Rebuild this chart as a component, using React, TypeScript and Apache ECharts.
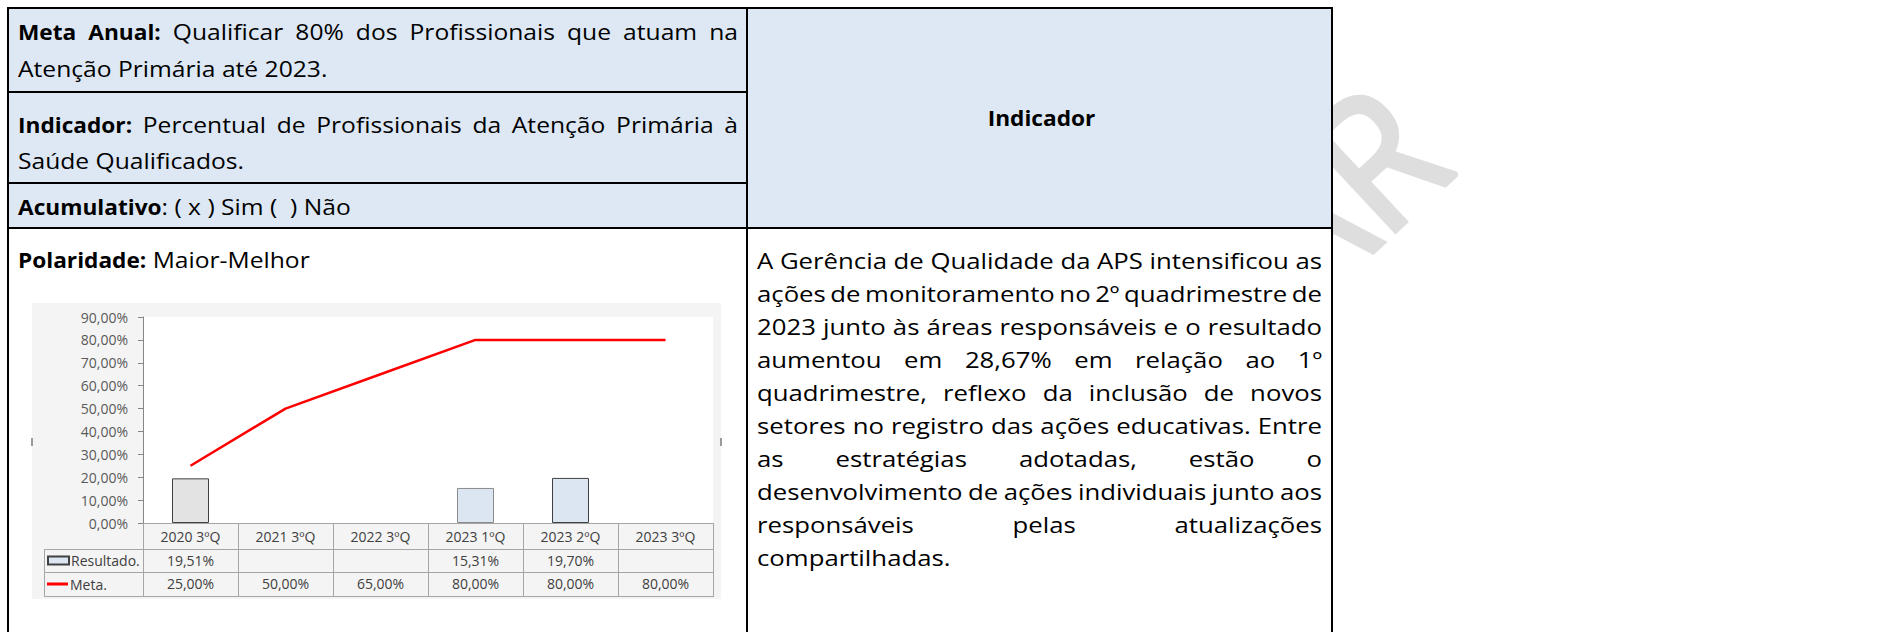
import React, { useEffect, useRef } from "react";
import * as echarts from "echarts";

// ---------- data ----------
const categories = ["2020 3ºQ", "2021 3ºQ", "2022 3ºQ", "2023 1ºQ", "2023 2ºQ", "2023 3ºQ"];
const resultado: (number | null)[] = [19.51, null, null, 15.31, 19.7, null];
const meta: number[] = [25, 50, 65, 80, 80, 80];
const yMin = 0;
const yMax = 90;
const yStep = 10;

const seriesNames = ["Resultado.", "Meta."];

const metaAnualLabel = "Meta Anual:";
const metaAnualText = ["Qualificar 80% dos Profissionais que atuam na", "Atenção Primária até 2023."];
const indicadorLabel = "Indicador:";
const indicadorText = ["Percentual de Profissionais da Atenção Primária à", "Saúde Qualificados."];
const acumulativoLabel = "Acumulativo";
const acumulativoText = ": ( x ) Sim (  ) Não";
const polaridadeLabel = "Polaridade:";
const polaridadeText = "Maior-Melhor";
const headerTitle = "Indicador";
const analysisLines = [
  "A Gerência de Qualidade da APS intensificou as",
  "ações de monitoramento no 2º quadrimestre de",
  "2023 junto às áreas responsáveis e o resultado",
  "aumentou em 28,67% em relação ao 1º",
  "quadrimestre, reflexo da inclusão de novos",
  "setores no registro das ações educativas. Entre",
  "as estratégias adotadas, estão o",
  "desenvolvimento de ações individuais junto aos",
  "responsáveis pelas atualizações",
  "compartilhadas.",
];
// only the tail of the watermark is visible beside the table
const watermarkText = "AR";

// ---------- styles / layout ----------
const FONT = '"Open Sans", sans-serif';
const TXT_SIZE = 22;
const SX_LEFT = 1.12;
const SX_BOLD = 1.03;
const SX_RIGHT = 1.17;
const CHART_FONT_SIZE = 14;

const W = 1885;
const H = 632;
const TB = { left: 8, mid: 747, right: 1332, top: 8, r1: 92, r2: 183, r3: 228 };
const CH = { left: 32, right: 721, top: 303, bottom: 599 };
const GRID = { left: 143, top: 317, width: 570, height: 206 };
const DT = { left: 44, row1: 549, row2: 572, row3: 596 };

const BAR_STYLES = [
  { color: "#e3e3e3", borderColor: "#404040" },
  null,
  null,
  { color: "#dce6f2", borderColor: "#8a8a8a" },
  { color: "#dce6f2", borderColor: "#404040" },
  null,
];

const fmtPct = (v: number | null | undefined) =>
  v == null ? "" : v.toFixed(2).replace(".", ",") + "%";

let measureCtx: CanvasRenderingContext2D | null = null;
function measure(text: string, bold = false) {
  if (!measureCtx) measureCtx = document.createElement("canvas").getContext("2d");
  measureCtx!.font = `${bold ? "bold" : "normal"} ${TXT_SIZE}px ${FONT}`;
  return measureCtx!.measureText(text).width;
}

function textEl(text: string, x: number, y: number, sx: number, bold = false, extra: any = {}) {
  return {
    type: "text",
    x,
    y,
    scaleX: sx,
    z: 30,
    silent: true,
    style: {
      text,
      fontFamily: FONT,
      fontSize: TXT_SIZE,
      fontWeight: bold ? "bold" : "normal",
      fill: "#000",
      align: "left",
      textAlign: "left",
      verticalAlign: "middle",
      textVerticalAlign: "middle",
      ...extra,
    },
  };
}

type Tok = { t: string; b: boolean };
const toks = (s: string, b: boolean): Tok[] => s.split(" ").filter((w) => w.length).map((t) => ({ t, b }));

function justify(els: any[], tokens: Tok[], x0: number, x1: number, y: number, sxReg: number) {
  const widths = tokens.map((tk) => measure(tk.t, tk.b) * (tk.b ? SX_BOLD : sxReg));
  const total = widths.reduce((a, b) => a + b, 0);
  const gap = tokens.length > 1 ? (x1 - x0 - total) / (tokens.length - 1) : 0;
  let x = x0;
  tokens.forEach((tk, k) => {
    els.push(textEl(tk.t, x, y, tk.b ? SX_BOLD : sxReg, tk.b));
    x += widths[k] + gap;
  });
}

function labelled(els: any[], label: string, text: string, x: number, y: number, withSpace: boolean) {
  els.push(textEl(label, x, y, SX_BOLD, true));
  const lw = measure(label, true) * SX_BOLD + (withSpace ? measure(" ") * SX_LEFT : 0);
  els.push(textEl(text, x + lw, y, SX_LEFT, false));
}

function buildGraphic() {
  const els: any[] = [];
  // watermark (behind everything)
  els.push({
    type: "text",
    x: 1410,
    y: 120,
    rotation: 0.75,
    scaleX: 0.9,
    z: -30,
    silent: true,
    style: {
      text: watermarkText,
      fontFamily: FONT,
      fontSize: 185,
      fontWeight: "normal",
      fill: "#dedede",
      stroke: "#dedede",
      lineWidth: 5,
      lineJoin: "round",
      lineCap: "round",
      align: "right",
      textAlign: "right",
      verticalAlign: "middle",
      textVerticalAlign: "middle",
    },
  });
  // table fills
  const blue = "#dde8f4";
  els.push({ type: "rect", z: -20, silent: true, shape: { x: TB.left, y: TB.top, width: TB.right - TB.left, height: TB.r3 - TB.top }, style: { fill: blue } });
  els.push({ type: "rect", z: -20, silent: true, shape: { x: TB.left, y: TB.r3, width: TB.right - TB.left, height: H - TB.r3 }, style: { fill: "#fff" } });
  // chart background
  els.push({ type: "rect", z: -15, silent: true, shape: { x: CH.left, y: CH.top, width: CH.right - CH.left, height: CH.bottom - CH.top }, style: { fill: "#f4f4f4" } });
  // chart frame handles
  els.push({ type: "rect", z: -14, silent: true, shape: { x: CH.left - 1, y: 438, width: 2, height: 8 }, style: { fill: "#9a9a9a" } });
  els.push({ type: "rect", z: -14, silent: true, shape: { x: CH.right - 1, y: 438, width: 2, height: 8 }, style: { fill: "#9a9a9a" } });

  // data table grid lines
  const lineStyle = { stroke: "#a6a6a6", lineWidth: 1 };
  const cw = GRID.width / categories.length;
  const gBottom = GRID.top + GRID.height;
  for (let k = 0; k <= categories.length; k++) {
    const x = Math.round(GRID.left + k * cw) + 0.5;
    els.push({ type: "line", z: 5, silent: true, shape: { x1: x, y1: gBottom, x2: x, y2: DT.row3 }, style: lineStyle });
  }
  els.push({ type: "line", z: 5, silent: true, shape: { x1: DT.left + 0.5, y1: DT.row1, x2: DT.left + 0.5, y2: DT.row3 }, style: lineStyle });
  [DT.row1, DT.row2, DT.row3].forEach((y) => {
    els.push({ type: "line", z: 5, silent: true, shape: { x1: DT.left, y1: y + 0.5, x2: GRID.left + GRID.width + 1, y2: y + 0.5 }, style: lineStyle });
  });

  // table borders
  const bs = { stroke: "#000", lineWidth: 2 };
  const hl = (x1: number, x2: number, y: number) =>
    els.push({ type: "line", z: 40, silent: true, shape: { x1, y1: y, x2, y2: y }, style: bs });
  const vl = (x: number, y1: number, y2: number) =>
    els.push({ type: "line", z: 40, silent: true, shape: { x1: x, y1, x2: x, y2 }, style: bs });
  hl(TB.left - 1, TB.right + 1, TB.top);
  hl(TB.left, TB.mid, TB.r1);
  hl(TB.left, TB.mid, TB.r2);
  hl(TB.left - 1, TB.right + 1, TB.r3);
  vl(TB.left, TB.top, H);
  vl(TB.mid, TB.top, H);
  vl(TB.right, TB.top, H);

  // left column texts
  const lx = 18;
  const lx1 = 738;
  justify(els, [...toks(metaAnualLabel, true), ...toks(metaAnualText[0], false)], lx, lx1, 32, SX_LEFT);
  els.push(textEl(metaAnualText[1], lx, 69, SX_LEFT));
  justify(els, [...toks(indicadorLabel, true), ...toks(indicadorText[0], false)], lx, lx1, 125, SX_LEFT);
  els.push(textEl(indicadorText[1], lx, 161, SX_LEFT));
  labelled(els, acumulativoLabel, acumulativoText, lx, 206.5, false);
  labelled(els, polaridadeLabel, polaridadeText, lx, 259.5, true);
  // header
  els.push(
    textEl(headerTitle, (TB.mid + TB.right) / 2 + 2, (TB.top + TB.r3) / 2, SX_BOLD, true, {
      align: "center",
      textAlign: "center",
    })
  );
  // justified analysis text
  const x0 = 757;
  const x1 = 1322;
  analysisLines.forEach((line, i) => {
    const y = 259.8 + i * 33.1;
    if (i === analysisLines.length - 1) {
      els.push(textEl(line, x0, y, SX_RIGHT));
      return;
    }
    justify(els, toks(line, false), x0, x1, y, SX_RIGHT);
  });
  return els;
}

export default function App() {
  const ref = useRef<HTMLDivElement>(null);
  useEffect(() => {
    if (!ref.current) return;
    const chart = echarts.init(ref.current, null, { renderer: "svg" });
    const labelStyle = { fontFamily: FONT, fontSize: CHART_FONT_SIZE, color: "#404040" };
    const dataAxis = (offset: number, values: (number | null)[]) => ({
      type: "category",
      gridIndex: 0,
      position: "bottom",
      offset,
      data: categories,
      axisLine: { show: false },
      axisTick: { show: false },
      splitLine: { show: false },
      axisLabel: {
        ...labelStyle,
        interval: 0,
        margin: 6,
        formatter: (_v: string, i: number) => fmtPct(values[i]),
      },
    });
    chart.setOption({
      animation: false,
      backgroundColor: "#fff",
      grid: {
        left: GRID.left,
        top: GRID.top,
        width: GRID.width,
        height: GRID.height,
        show: true,
        backgroundColor: "#fff",
        borderWidth: 0,
        containLabel: false,
        outerBoundsMode: "none",
      },
      legend: [
        {
          data: [seriesNames[0]],
          left: 47,
          top: 552,
          padding: 0,
          itemWidth: 21,
          itemHeight: 8,
          icon: "rect",
          selectedMode: false,
          textStyle: { ...labelStyle, lineHeight: 17, padding: [0, 0, 0, -3] },
        },
        {
          data: [seriesNames[1]],
          left: 47,
          top: 575.5,
          padding: 0,
          itemWidth: 21,
          itemHeight: 3,
          icon: "rect",
          itemStyle: { color: "#ff0000", borderWidth: 0 },
          selectedMode: false,
          textStyle: { ...labelStyle, lineHeight: 17, padding: [0, 0, 0, -3] },
        },
      ],
      xAxis: [
        {
          type: "category",
          position: "bottom",
          data: categories,
          axisLine: { show: true, lineStyle: { color: "#a6a6a6", width: 1 } },
          axisTick: { show: false },
          splitLine: { show: false },
          axisLabel: { ...labelStyle, interval: 0, margin: 6 },
        },
        dataAxis(24, resultado),
        dataAxis(47.5, meta),
      ],
      yAxis: {
        type: "value",
        min: yMin,
        max: yMax,
        interval: yStep,
        axisLine: { show: true, lineStyle: { color: "#868686", width: 1 } },
        axisTick: { show: true, length: 5, lineStyle: { color: "#868686" } },
        splitLine: { show: false },
        axisLabel: { ...labelStyle, color: "#595959", margin: 15, formatter: (v: number) => fmtPct(v) },
      },
      series: [
        {
          name: seriesNames[0],
          type: "bar",
          xAxisIndex: 0,
          barWidth: 37,
          itemStyle: { color: "#dce6f2", borderColor: "#404040", borderWidth: 1 },
          data: resultado.map((v, i) =>
            BAR_STYLES[i] ? { value: v, itemStyle: BAR_STYLES[i] } : v
          ),
          z: 3,
        },
        {
          name: seriesNames[1],
          type: "line",
          xAxisIndex: 0,
          symbol: "none",
          lineStyle: { color: "#ff0000", width: 2.5 },
          itemStyle: { color: "#ff0000" },
          data: meta,
          z: 4,
        },
      ],
      graphic: { elements: buildGraphic() },
    });
    return () => chart.dispose();
  }, []);
  return (
    <div
      ref={ref}
      style={{ position: "fixed", left: 0, top: 0, width: W, height: H, background: "#fff" }}
    />
  );
}
